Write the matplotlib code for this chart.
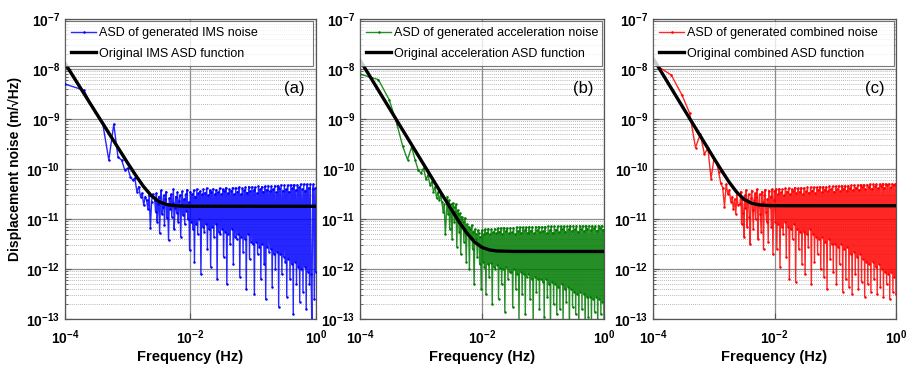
import numpy as np
import matplotlib
matplotlib.use("Agg")
import matplotlib.pyplot as plt
from matplotlib.ticker import LogLocator, NullLocator, FixedLocator, FixedFormatter

plt.rcParams['font.family'] = ['Liberation Sans', 'DejaVu Sans']
plt.rcParams['mathtext.fontset'] = 'custom'
plt.rcParams['mathtext.rm'] = 'Liberation Sans'
plt.rcParams['mathtext.bf'] = 'Liberation Sans:bold'

# ---------------------------------------------------------------------------
# Spectral estimates (log10 of ASD, m/sqrt(Hz))
# low-frequency bins: k * 1e-4 Hz, k = 1..25
f_low = np.arange(1, 26) * 1e-4
# remaining bins on a log grid from 2.7 mHz to 1 Hz (200 bins)
N_HIGH = 200

ims_low = [-8.30, -8.42, -8.85, -9.09, -9.82, -9.10, -9.76, -9.82, -10.02, -9.98,
           -10.15, -10.22, -10.18, -10.45, -10.35, -10.55, -10.48, -10.72, -10.55, -10.62,
           -10.8, -10.52, -11.18, -10.65, -10.5]
ims_high = [
    -10.62, -10.85, -10.48, -11.05, -10.7, -10.55, -11.28, -10.66, -10.42, -10.9,
    -10.75, -10.52, -11.12, -10.6, -10.45, -10.98, -10.7, -11.42, -10.58, -10.8,
    -10.5, -10.95, -10.68, -10.4, -11.2, -10.77, -10.55, -10.88, -10.46, -11.05,
    -10.64, -10.52, -11.35, -10.72, -10.44, -10.92, -10.6, -11.1, -10.5, -10.83,
    -10.41, -11.0, -10.66, -11.62, -10.45, -11.05, -10.5, -11.2, -10.42, -11.85,
    -10.55, -11.1, -10.4, -11.3, -10.48, -11.0, -10.44, -12.1, -10.5, -11.15,
    -10.4, -11.25, -10.47, -11.1, -10.38, -11.6, -10.52, -11.2, -10.42, -11.95,
    -10.45, -11.15, -10.39, -11.35, -10.5, -11.1, -10.41, -12.2, -10.46, -11.25,
    -10.38, -11.3, -10.5, -11.2, -10.4, -11.75, -10.44, -11.25, -10.37, -12.3,
    -10.48, -11.3, -10.4, -11.5, -10.43, -11.2, -10.37, -11.9, -10.5, -11.35,
    -10.37, -11.4, -10.45, -11.3, -10.36, -12.15, -10.5, -11.35, -10.38, -11.65,
    -10.42, -11.4, -10.36, -12.4, -10.47, -11.3, -10.35, -11.8, -10.44, -11.45,
    -10.35, -11.5, -10.42, -12.5, -10.36, -11.45, -10.48, -11.7, -10.34, -11.55,
    -10.4, -12.2, -10.35, -11.5, -10.45, -11.9, -10.34, -12.6, -10.41, -11.55,
    -10.33, -11.65, -10.44, -11.6, -10.34, -12.35, -10.4, -11.7, -10.33, -12.0,
    -10.46, -11.65, -10.33, -12.75, -10.38, -11.7, -10.32, -12.1, -10.43, -11.75,
    -10.32, -11.85, -10.4, -12.55, -10.32, -11.8, -10.45, -12.2, -10.31, -11.9,
    -10.38, -12.9, -10.31, -11.85, -10.42, -12.3, -10.31, -11.95, -10.36, -12.65,
    -10.3, -12.0, -10.4, -12.45, -10.3, -11.95, -10.43, -12.8, -10.3, -12.05,
    -10.37, -12.3, -10.3, -12.1, -13.2, -10.4, -10.3, -12.6, -10.38, -12.05,
]

acc_low = [-8.10, -8.21, -8.61, -9.09, -9.54, -9.81, -9.56, -9.82, -10.02, -10.08,
           -9.98, -10.2, -10.12, -10.32, -10.25, -10.45, -10.36, -10.58, -10.46, -10.62,
           -10.52, -10.66, -10.85, -10.7, -11.3]
acc_high = [
    -10.55, -10.9, -10.62, -11.2, -10.7, -10.8, -11.4, -10.68, -10.75, -11.05,
    -10.85, -10.7, -11.55, -10.82, -10.9, -11.25, -10.88, -11.7, -10.95, -11.0,
    -11.05, -11.45, -10.98, -11.2, -11.85, -11.1, -11.3, -11.15, -12.0, -11.2,
    -11.35, -11.12, -11.6, -11.25, -12.3, -11.2, -11.4, -11.3, -11.75, -11.22,
    -11.28, -11.9, -11.35, -12.4, -11.22, -11.85, -11.3, -11.95, -11.2, -12.5,
    -11.27, -11.9, -11.19, -12.15, -11.3, -11.88, -11.2, -12.7, -11.26, -11.95,
    -11.19, -12.0, -11.28, -11.92, -11.18, -12.6, -11.25, -11.98, -11.18, -12.3,
    -11.3, -12.0, -11.17, -12.85, -11.24, -11.95, -11.18, -12.2, -11.28, -12.05,
    -11.17, -12.05, -11.26, -12.75, -11.17, -12.0, -11.3, -12.4, -11.16, -12.1,
    -11.24, -13.05, -11.16, -12.05, -11.28, -12.5, -11.16, -12.1, -11.22, -12.9,
    -11.16, -12.15, -11.27, -12.1, -11.15, -12.6, -11.23, -12.2, -11.15, -13.1,
    -11.28, -12.15, -11.15, -12.45, -11.22, -12.2, -11.15, -12.8, -11.26, -12.2,
    -11.15, -12.25, -11.24, -12.95, -11.15, -12.2, -11.28, -12.55, -11.14, -12.3,
    -11.22, -13.2, -11.14, -12.25, -11.27, -12.7, -11.14, -12.3, -11.21, -12.9,
    -11.14, -12.35, -11.26, -12.8, -11.14, -12.3, -11.2, -13.05, -11.14, -12.4,
    -11.25, -12.65, -11.14, -12.35, -11.2, -13.3, -11.13, -12.4, -11.24, -12.75,
    -11.13, -12.45, -11.2, -12.9, -11.13, -12.5, -11.25, -13.15, -11.13, -12.45,
    -11.2, -12.8, -11.13, -12.5, -11.24, -13.25, -11.13, -12.55, -11.19, -12.95,
    -11.13, -12.55, -11.22, -13.1, -11.13, -12.6, -11.18, -12.85, -11.13, -12.55,
    -11.23, -13.3, -11.13, -12.6, -11.18, -12.9, -11.13, -12.65, -11.21, -13.1,
]

comb_low = [-7.88, -8.12, -8.52, -8.88, -9.57, -9.30, -9.70, -9.58, -10.19, -9.82,
            -9.85, -10.05, -10.28, -10.37, -10.75, -10.3, -10.5, -10.42, -10.65, -10.55,
            -10.8, -10.6, -10.9, -10.5, -10.72]
comb_high = [
    -10.7, -10.45, -11.1, -10.6, -10.88, -11.35, -10.52, -10.78, -10.42, -11.15,
    -10.65, -10.5, -10.95, -11.5, -10.58, -10.43, -10.82, -11.2, -10.62, -10.48,
    -11.0, -10.55, -10.4, -11.4, -10.7, -10.5, -10.9, -11.25, -10.45, -10.66,
    -11.6, -10.52, -10.41, -10.85, -11.05, -10.6, -11.45, -10.43, -10.75, -10.55,
    -11.15, -10.4, -11.7, -10.62, -10.44, -11.05, -10.4, -11.6, -10.5, -11.1,
    -10.39, -11.95, -10.46, -11.15, -10.4, -11.3, -10.52, -11.05, -10.38, -11.75,
    -10.45, -11.15, -10.38, -12.2, -10.5, -11.2, -10.4, -11.4, -10.44, -11.1,
    -10.37, -12.25, -10.48, -11.2, -10.38, -11.6, -10.45, -11.25, -10.37, -11.9,
    -10.5, -11.25, -10.37, -12.1, -10.44, -11.3, -10.36, -11.55, -10.47, -11.2,
    -10.36, -12.3, -10.43, -11.3, -10.36, -11.85, -10.48, -11.35, -10.36, -11.7,
    -10.42, -11.4, -10.35, -12.0, -10.46, -11.35, -10.35, -12.15, -10.41, -11.45,
    -10.35, -12.4, -10.44, -11.4, -10.34, -11.8, -10.4, -11.5, -10.34, -12.05,
    -10.45, -11.5, -10.34, -12.3, -10.4, -11.55, -10.33, -11.9, -10.44, -11.5,
    -10.33, -12.45, -10.39, -11.6, -10.33, -12.2, -10.43, -11.55, -10.33, -12.35,
    -10.38, -11.7, -10.32, -12.5, -10.42, -11.65, -10.32, -12.1, -10.37, -11.75,
    -10.32, -12.4, -10.41, -11.7, -10.31, -12.25, -10.36, -11.8, -10.31, -12.55,
    -10.4, -11.85, -10.31, -12.3, -10.35, -11.9, -10.3, -12.45, -10.39, -11.85,
    -10.3, -12.2, -10.34, -11.95, -10.3, -12.5, -10.38, -11.9, -10.3, -12.35,
    -10.33, -12.0, -10.29, -12.55, -10.37, -12.05, -10.29, -12.3, -10.32, -12.1,
    -10.29, -12.6, -10.36, -12.05, -10.29, -12.45, -10.31, -12.15, -10.29, -12.5,
]

# Original (model) ASD functions sampled at these frequencies
asd_freq = [1e-4, 3.162e-4, 1e-3, 1.334e-3, 1.778e-3, 2.371e-3, 3.162e-3, 4.217e-3,
            5.623e-3, 7.499e-3, 1e-2, 1.334e-2, 1.778e-2, 3.162e-2, 1e-1, 1.0]
ims_asd = [1.31e-8, 1.31e-9, 1.32e-10, 7.6e-11, 4.52e-11, 2.95e-11, 2.23e-11, 1.95e-11,
           1.85e-11, 1.815e-11, 1.805e-11, 1.80e-11, 1.80e-11, 1.80e-11, 1.80e-11, 1.80e-11]
acc_asd = [1.51e-8, 1.51e-9, 1.51e-10, 8.51e-11, 4.79e-11, 2.70e-11, 1.53e-11, 8.8e-12,
           5.28e-12, 3.51e-12, 2.71e-12, 2.41e-12, 2.30e-12, 2.255e-12, 2.25e-12, 2.25e-12]
comb_asd = [1.65e-8, 1.65e-9, 1.664e-10, 9.49e-11, 5.55e-11, 3.48e-11, 2.48e-11, 2.07e-11,
            1.92e-11, 1.873e-11, 1.857e-11, 1.852e-11, 1.85e-11, 1.85e-11, 1.85e-11, 1.85e-11]

panels = [
    dict(low=ims_low, high=ims_high, asd=ims_asd, color='#0000ff', tag='(a)',
         noise_label='ASD of generated IMS noise', asd_label='Original IMS ASD function'),
    dict(low=acc_low, high=acc_high, asd=acc_asd, color='#007a00', tag='(b)',
         noise_label='ASD of generated acceleration noise',
         asd_label='Original acceleration ASD function'),
    dict(low=comb_low, high=comb_high, asd=comb_asd, color='#ff0000', tag='(c)',
         noise_label='ASD of generated combined noise',
         asd_label='Original combined ASD function'),
]

axes_rects = [
    (0.0717, 0.133, 0.277, 0.815),
    (0.3974, 0.133, 0.2693, 0.815),
    (0.7208, 0.133, 0.2682, 0.815),
]

fig = plt.figure(figsize=(9.06, 3.68), dpi=100)

yticks = [10.0 ** e for e in range(-13, -6)]
ylabels = [r'$\mathbf{10^{%d}}$' % e for e in range(-13, -6)]
xticks = [1e-4, 1e-2, 1e0]
xlabels = [r'$\mathbf{10^{-4}}$', r'$\mathbf{10^{-2}}$', r'$\mathbf{10^{0}}$']

for i, (p, rect) in enumerate(zip(panels, axes_rects)):
    ax = fig.add_axes(rect)
    f_high = np.geomspace(2.7e-3, 1.0, N_HIGH)
    freq = np.concatenate([f_low, f_high])
    vals = 10.0 ** np.concatenate([np.array(p['low']), np.array(p['high'])])

    rgb = matplotlib.colors.to_rgb(p['color'])
    ax.plot(freq, vals, color=rgb + (0.85,), lw=1.0, marker='.', ms=3.6,
            mfc=p['color'], mec=p['color'], mew=0, label=p['noise_label'], zorder=3)
    ax.plot(asd_freq, p['asd'], color='black', lw=2.4, label=p['asd_label'], zorder=4)

    ax.set_xscale('log')
    ax.set_yscale('log')
    ax.set_xlim(1e-4, 1.0)
    ax.set_ylim(1e-13, 1e-7)

    ax.xaxis.set_major_locator(FixedLocator(xticks))
    ax.xaxis.set_major_formatter(FixedFormatter(xlabels))
    ax.xaxis.set_minor_locator(NullLocator())
    ax.yaxis.set_major_locator(FixedLocator(yticks))
    ax.yaxis.set_major_formatter(FixedFormatter(ylabels))
    ax.yaxis.set_minor_locator(LogLocator(base=10, subs=np.arange(2, 10), numticks=20))

    ax.grid(True, which='major', color='#8c8c8c', lw=0.9, ls='-', zorder=0)
    ax.grid(True, which='minor', axis='y', color='#a0a0a0', lw=0.6, ls=(0, (1, 1.5)), zorder=0)
    ax.set_axisbelow(True)

    ax.tick_params(which='both', direction='in', labelsize=10, color='#555555')
    ax.tick_params(which='major', length=4, width=0.8)
    ax.tick_params(which='minor', length=2, width=0.6)
    ax.tick_params(axis='x', which='major', pad=7)
    for s in ax.spines.values():
        s.set_color('#555555')
        s.set_linewidth(0.9)

    ax.set_xlabel('Frequency (Hz)', fontsize=10.5, fontweight='bold', labelpad=2)
    if i == 0:
        ax.set_ylabel('Displacement noise (m/\u221aHz)', fontsize=10,
                      fontweight='bold', labelpad=3)

    leg = ax.legend(loc='upper left', bbox_to_anchor=(0.0, 0.0, 0.99, 0.995),
                    mode='expand', fontsize=9, frameon=True, fancybox=False,
                    borderaxespad=0.0, handlelength=2.0, handletextpad=0.2,
                    labelspacing=0.7, borderpad=0.5, markerscale=1.0)
    leg.get_frame().set_edgecolor('#555555')
    leg.get_frame().set_linewidth(0.8)
    leg.set_zorder(6)

    ax.text(0.955, 0.77, p['tag'], transform=ax.transAxes, ha='right', va='center',
            fontsize=12, zorder=7)

fig.savefig('out.png', dpi=100, facecolor='white')
